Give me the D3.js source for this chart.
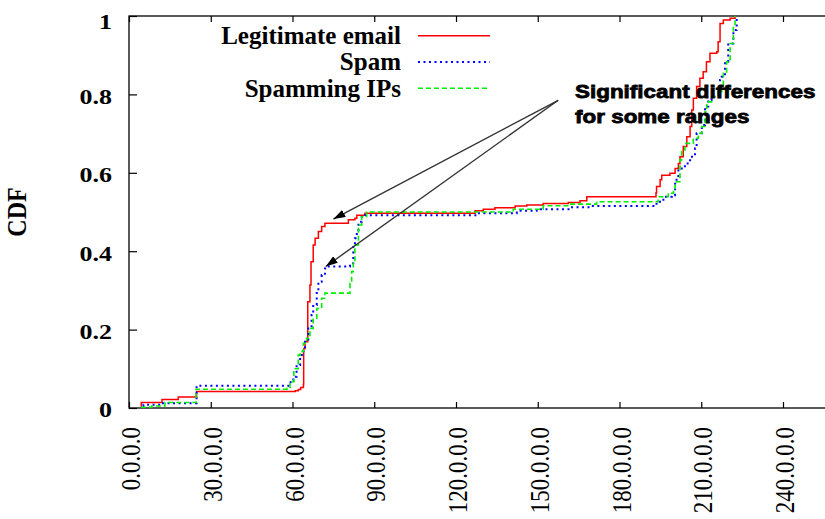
<!DOCTYPE html>
<html>
<head>
<meta charset="utf-8">
<script src="https://cdn.jsdelivr.net/npm/d3@7"></script>
<style>
  body { margin: 0; background: #fff; }
  svg { display: block; }
</style>
</head>
<body>
<div id="wrapper"></div>
<script>
// first octet of the address (x) and the CDF value (y)
const legitimateIp = [4.4, 4.5, 12.1, 18.1, 24.8, 61, 62.1, 63, 64, 64.1, 64.6, 65.6, 66.4, 66.8, 67.6, 68.3, 69.5, 70.7, 71.9, 80.5, 82.9, 83.6, 86.6, 127, 130, 134.3, 141.7, 146, 152, 161.2, 165.5, 168, 193.4, 193.6, 194.9, 195.5, 198.5, 200.4, 201.6, 202.2, 203.4, 204.7, 205.9, 206.5, 207.1, 208.3, 209.5, 210.7, 211.9, 213.2, 215.7, 216.2, 216.9, 218.1, 220.6, 222.4];
const legitimateCdf = [0.003, 0.014, 0.022, 0.028, 0.042, 0.044, 0.047, 0.052, 0.06, 0.152, 0.169, 0.271, 0.314, 0.373, 0.416, 0.433, 0.45, 0.463, 0.471, 0.48, 0.484, 0.492, 0.497, 0.503, 0.507, 0.511, 0.515, 0.518, 0.522, 0.524, 0.529, 0.539, 0.549, 0.565, 0.582, 0.594, 0.599, 0.611, 0.624, 0.641, 0.667, 0.692, 0.718, 0.76, 0.79, 0.82, 0.841, 0.858, 0.883, 0.905, 0.909, 0.934, 0.981, 0.99, 0.994, 1];

const spamIp = [5.2, 5.3, 12, 24.8, 58.5, 59.3, 60.3, 61.5, 62.8, 64, 64.6, 65.8, 67, 67.6, 68.9, 69.5, 70.7, 71.9, 72.6, 81.1, 82.3, 82.9, 83.6, 84.2, 85.4, 86.6, 127.6, 142.3, 149.6, 161.8, 169.2, 193.6, 196.1, 199.2, 200.4, 201.6, 204, 205.9, 207.7, 208.3, 210.2, 211.4, 212.6, 213.8, 216.9, 217.5, 218.7, 219.9, 221.8, 223];
const spamCdf = [0.004, 0.008, 0.012, 0.057, 0.062, 0.07, 0.08, 0.11, 0.135, 0.152, 0.169, 0.203, 0.237, 0.263, 0.297, 0.322, 0.339, 0.356, 0.361, 0.369, 0.416, 0.433, 0.45, 0.475, 0.488, 0.492, 0.497, 0.503, 0.507, 0.512, 0.515, 0.526, 0.539, 0.543, 0.582, 0.611, 0.624, 0.641, 0.662, 0.701, 0.722, 0.769, 0.786, 0.794, 0.837, 0.845, 0.883, 0.93, 0.964, 1];

const spammingIp = [4.4, 8.3, 13.2, 24.6, 58, 59.1, 60.5, 62.1, 62.8, 64, 65.2, 66.4, 67.6, 68.9, 70.7, 71.9, 81.1, 81.7, 82.3, 82.9, 84.2, 85.4, 87.2, 141, 152, 161.8, 171.6, 194.2, 197.9, 199.8, 200.4, 202.2, 202.8, 204, 207.1, 208.9, 210.2, 211.4, 212, 213.8, 216.2, 217.5, 218.1, 219.3, 220.6, 221.8, 222.4];
const spammingCdf = [0.002, 0.005, 0.014, 0.048, 0.05, 0.067, 0.1, 0.135, 0.144, 0.165, 0.178, 0.203, 0.229, 0.254, 0.28, 0.293, 0.318, 0.348, 0.373, 0.416, 0.467, 0.488, 0.5, 0.507, 0.516, 0.52, 0.526, 0.539, 0.548, 0.552, 0.577, 0.633, 0.658, 0.675, 0.688, 0.701, 0.718, 0.756, 0.781, 0.794, 0.807, 0.82, 0.854, 0.883, 0.93, 0.973, 1];

const xTicks = [0, 30, 60, 90, 120, 150, 180, 210, 240];
const yTicks = [0, 0.2, 0.4, 0.6, 0.8, 1];

const seriesNames = ["Legitimate email", "Spam", "Spamming IPs"];
const annotationLines = ["Significant differences", "for some ranges"];

function drawChart() {
  const dimensions = {
    width: 825,
    height: 519,
    margin: { top: 16, left: 129, bottom: 111 },
  };
  const plotBottom = dimensions.height - dimensions.margin.bottom;
  const stretch = 1.18;

  const svg = d3.select("#wrapper")
    .append("svg")
    .attr("width", dimensions.width)
    .attr("height", dimensions.height);

  const xScale = d3.scaleLinear()
    .domain([0, 256])
    .range([dimensions.margin.left, dimensions.margin.left + 256 * 2.725]);

  const yScale = d3.scaleLinear()
    .domain([0, 1])
    .range([plotBottom, dimensions.margin.top]);

  // frame
  svg.append("rect")
    .attr("x", xScale(0))
    .attr("y", yScale(1))
    .attr("width", xScale(256) - xScale(0))
    .attr("height", yScale(0) - yScale(1))
    .attr("fill", "none")
    .attr("stroke", "#000")
    .attr("stroke-width", 1.3);

  // y axis
  const yAxis = svg.append("g")
    .attr("transform", `translate(${xScale(0)},0)`)
    .call(d3.axisLeft(yScale).tickValues(yTicks).tickSizeInner(-8).tickSizeOuter(0)
      .tickFormat(d => String(d)));
  yAxis.select(".domain").remove();
  yAxis.selectAll(".tick line").attr("stroke", "#000").attr("stroke-width", 1.2);
  yAxis.selectAll(".tick text")
    .attr("x", 0)
    .attr("dy", d => d === 1 ? "0.55em" : "0.4em")
    .attr("transform", `translate(-17,0) scale(${stretch},1)`)
    .attr("text-anchor", "end")
    .style("font-family", "Liberation Serif")
    .style("font-weight", "bold")
    .style("font-size", "22px")
    .attr("fill", "#000");

  // x axis
  const xAxis = svg.append("g")
    .attr("transform", `translate(0,${plotBottom})`)
    .call(d3.axisBottom(xScale).tickValues(xTicks).tickSizeInner(-6).tickSizeOuter(0)
      .tickFormat(d => `${d}.0.0.0`));
  xAxis.select(".domain").remove();
  xAxis.selectAll(".tick line").attr("stroke", "#000").attr("stroke-width", 1.2);
  xAxis.selectAll(".tick text")
    .attr("x", 0)
    .attr("y", 0)
    .attr("dy", "0.35em")
    .attr("transform", `translate(1,19) scale(${stretch},1) rotate(-90)`)
    .attr("text-anchor", "end")
    .style("font-family", "Liberation Serif")
    .style("font-size", "23px")
    .attr("fill", "#000");

  // mirrored ticks on top
  const topAxis = svg.append("g")
    .attr("transform", `translate(0,${yScale(1)})`)
    .call(d3.axisTop(xScale).tickValues(xTicks).tickSizeInner(-6).tickSizeOuter(0)
      .tickFormat(""));
  topAxis.select(".domain").remove();
  topAxis.selectAll(".tick line").attr("stroke", "#000").attr("stroke-width", 1.2);

  // y title
  svg.append("text")
    .attr("transform", `translate(26,212) scale(${stretch},1) rotate(-90)`)
    .attr("text-anchor", "middle")
    .style("font-family", "Liberation Serif")
    .style("font-weight", "bold")
    .style("font-size", "24px")
    .text("CDF");

  const lineGenerator = d3.line()
    .x(d => xScale(d[0]))
    .y(d => yScale(d[1]))
    .curve(d3.curveStepAfter);

  const series = [
    { name: seriesNames[0], values: d3.zip(legitimateIp, legitimateCdf), color: "#ff0000", dash: null, width: 1.5 },
    { name: seriesNames[1], values: d3.zip(spamIp, spamCdf), color: "#0000ff", dash: "2,3.5", width: 2 },
    { name: seriesNames[2], values: d3.zip(spammingIp, spammingCdf), color: "#00ee00", dash: "5,3", width: 1.6 },
  ];

  svg.append("g")
    .selectAll("path")
    .data(series)
    .join("path")
    .attr("d", d => lineGenerator(d.values))
    .attr("fill", "none")
    .attr("stroke", d => d.color)
    .attr("stroke-width", d => d.width)
    .attr("stroke-dasharray", d => d.dash);

  // legend
  const legend = svg.append("g");
  const rows = legend.selectAll("g")
    .data(series)
    .join("g")
    .attr("transform", (d, i) => `translate(0,${35.7 + i * 26.3})`);
  rows.append("text")
    .attr("x", 401)
    .attr("dy", "0.33em")
    .attr("text-anchor", "end")
    .style("font-family", "Liberation Serif")
    .style("font-weight", "bold")
    .style("font-size", "25px")
    .text(d => d.name);
  rows.append("line")
    .attr("x1", 418)
    .attr("x2", 490)
    .attr("stroke", d => d.color)
    .attr("stroke-width", d => d.width)
    .attr("stroke-dasharray", d => d.dash);

  // annotation arrows (in data units)
  const arrowStart = [157.5, 0.785];
  const arrowTips = [[75, 0.482], [72.2, 0.361]];

  svg.append("defs").append("marker")
    .attr("id", "head")
    .attr("viewBox", "0 0 12 8")
    .attr("refX", 12)
    .attr("refY", 4)
    .attr("markerUnits", "userSpaceOnUse")
    .attr("markerWidth", 12)
    .attr("markerHeight", 8)
    .attr("orient", "auto")
    .append("path")
    .attr("d", "M0,0 L12,4 L0,8 Z")
    .attr("fill", "#000");

  svg.append("g")
    .selectAll("line")
    .data(arrowTips)
    .join("line")
    .attr("x1", xScale(arrowStart[0]))
    .attr("y1", yScale(arrowStart[1]))
    .attr("x2", d => xScale(d[0]))
    .attr("y2", d => yScale(d[1]))
    .attr("stroke", "#333")
    .attr("stroke-width", 1.4)
    .attr("marker-end", "url(#head)");

  svg.append("g")
    .selectAll("text")
    .data(annotationLines)
    .join("text")
    .attr("transform", (d, i) => `translate(${xScale(163.7)},${98 + i * 25}) scale(${stretch},1)`)
    .style("font-family", "Liberation Sans")
    .style("font-weight", "bold")
    .style("font-size", "19px")
    .attr("stroke", "#000")
    .attr("stroke-width", 0.8)
    .text(d => d);
}

drawChart();
</script>
</body>
</html>
